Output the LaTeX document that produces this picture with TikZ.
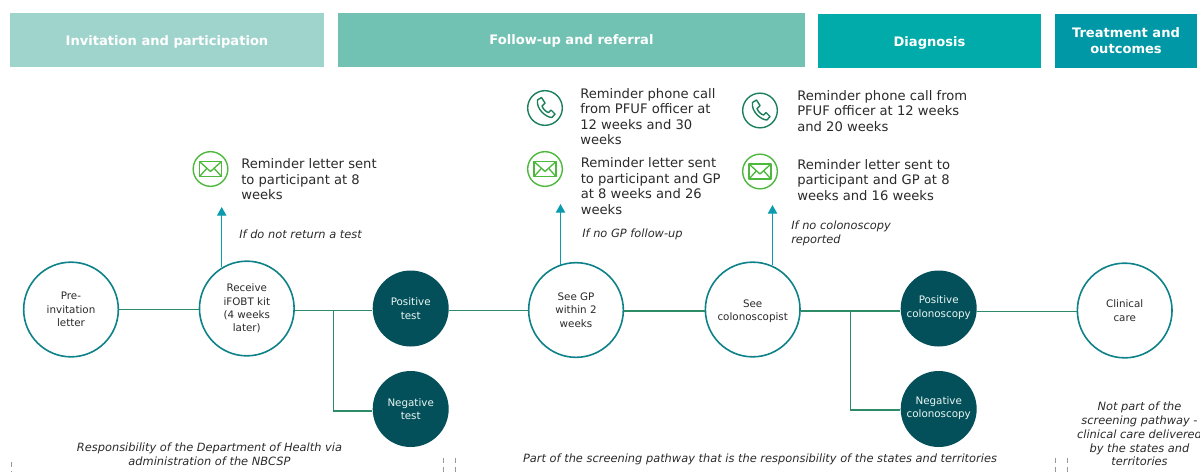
\documentclass[tikz,border=0pt]{standalone}
\usepackage{fontspec}
\setmainfont{DejaVu Sans}
\usetikzlibrary{arrows.meta,calc}
\definecolor{hA}{HTML}{9FD4CD}
\definecolor{hB}{HTML}{72C2B4}
\definecolor{hC}{HTML}{00ABA9}
\definecolor{hD}{HTML}{0097A7}
\definecolor{ring}{HTML}{0E8288}
\definecolor{dark}{HTML}{03505A}
\definecolor{conn}{HTML}{2E8B67}
\definecolor{arr}{HTML}{0A9BAE}
\definecolor{envg}{HTML}{4CB83C}
\definecolor{phg}{HTML}{1A7F5A}
\definecolor{txt}{HTML}{2A2A2A}
\tikzset{
 x=0.75pt,y=-0.75pt,
 band/.style={fill=#1,draw=none,minimum height=40.5pt,inner sep=0pt,text=white,font=\fontsize{9.8}{12}\selectfont\bfseries,align=center},
 openc/.style={circle,draw=ring,line width=1.2pt,fill=white,minimum size=71pt,inner sep=0pt,align=center,text=txt,font=\fontsize{7.75}{10.1}\selectfont},
 darkc/.style={circle,fill=dark,minimum size=57pt,inner sep=0pt,align=center,text=white!85!hB,font=\fontsize{7.75}{10.1}\selectfont},
 link/.style={draw=conn,line width=1.15pt},
 up/.style={draw=arr,line width=0.9pt,-{Triangle[length=6.5pt,width=7pt]}},
 note/.style={anchor=north west,inner sep=0pt,align=left,text=txt,font=\fontsize{9.85}{11.65}\selectfont},
 cond/.style={inner sep=0pt,text=txt,font=\fontsize{8.55}{10.4}\selectfont\itshape,align=left},
 foot/.style={inner sep=0pt,text=txt,font=\fontsize{8.55}{10.4}\selectfont\itshape,align=center},
 icon/.style={circle,draw=#1,line width=1.05pt,minimum size=26pt,inner sep=0pt},
 cut/.style={draw=gray!80,line width=0.7pt,dash pattern=on 3.75pt off 3pt},
}
\newcommand{\envicon}[1]{%
 \draw[envg,line width=1pt,line join=round] ($(#1)+(-11,-7.5)$) rectangle ($(#1)+(11,7.5)$);
 \draw[envg,line width=1pt,line join=round] ($(#1)+(-11,-7.5)$) -- ($(#1)+(0,2.5)$) -- ($(#1)+(11,-7.5)$);
 \draw[envg,line width=1pt] ($(#1)+(-11,7.5)$) -- ($(#1)+(-3.5,-0.8)$);
 \draw[envg,line width=1pt] ($(#1)+(11,7.5)$) -- ($(#1)+(3.5,-0.8)$);
}
\newcommand{\phoneicon}[1]{%
 \draw[phg,line width=1.05pt,line join=round] ($(#1)+(-7.5,-8)$) -- ($(#1)+(-3.5,-10.5)$) -- ($(#1)+(0,-5)$) -- ($(#1)+(-3,-2)$)
  .. controls ($(#1)+(-2,1)$) and ($(#1)+(1,4)$) .. ($(#1)+(3.5,4.5)$)
  -- ($(#1)+(6,2)$) -- ($(#1)+(10,6)$) -- ($(#1)+(7,9.5)$)
  .. controls ($(#1)+(1,9.5)$) and ($(#1)+(-9,1)$) .. cycle;
}
\newcommand{\liftup}{\\[-7.1pt]\mbox{}}
\begin{document}
\begin{tikzpicture}
\useasboundingbox (0,0) rectangle (1200,472);
% bands
\node[band=hA,minimum width=235.5pt] (b1) at (167,40) {\rule{0pt}{10.5pt}Invitation and participation};
\node[band=hB,minimum width=350.25pt] (b2) at (571.5,40) {\rule{0pt}{8.6pt}Follow-up and referral};
\node[band=hC,minimum width=167.25pt] (b3) at (929.5,41) {\rule{0pt}{10.5pt}Diagnosis};
\node[band=hD,minimum width=106.5pt] (b4) at (1126,40.5) {Treatment and\\[0.5pt]outcomes};
% nodes
\node[openc] (pre) at (71,309.5) {Pre-\\invitation\\letter};
\node[openc] (kit) at (246.8,308.5) {Receive\\iFOBT kit\\(4 weeks\\later)};
\node[darkc] (pos) at (410.7,308.5) {Positive\\test};
\node[darkc] (neg) at (410.7,409) {Negative\\test};
\node[openc] (gp) at (576,310) {See GP\\within 2\\weeks};
\node[openc] (col) at (752.7,309.5) {\rule{0pt}{8.7pt}See\\colonoscopist};
\node[darkc] (pcol) at (938.7,308.5) {Positive\\colonoscopy\liftup};
\node[darkc] (ncol) at (938.7,409) {Negative\\colonoscopy\liftup};
\node[openc] (care) at (1124.7,310.5) {Clinical\\care};
% connectors
\coordinate (j1) at (333.5,310.5);
\coordinate (j2) at (850.5,311);
\coordinate (l1) at (333.5,411);
\coordinate (l2) at (850.5,410);
\coordinate (j3) at (1000,311.5);
\draw[link] (pre.east) -- (kit.west |- pre.east);
\draw[link] (kit.east |- j1) -- (pos.west |- j1);
\draw[link] (j1) -- (l1) -- (neg.west |- l1);
\draw[link] (pos.east |- j1) -- (gp.west |- j1);
\draw[link] (gp.east |- j2) -- (col.west |- j2);
\draw[link] (col.east |- j2) -- (pcol.west |- j2);
\draw[link] (j2) -- (l2) -- (ncol.west |- l2);
\draw[link] (pcol.east |- j3) -- (care.west |- j3);
% icons
\node[icon=envg] (m1) at (210.5,169) {};
\node[icon=phg] (p2) at (545,108) {};
\node[icon=envg] (m2) at (545,169) {};
\node[icon=phg] (p3) at (760,110.5) {};
\node[icon=envg] (m3) at (760,171.5) {};
\envicon{m1}\envicon{m2}\envicon{m3}
\phoneicon{p2}\phoneicon{p3}
% arrows
\coordinate (t1) at (221.7,207);
\coordinate (t2) at (560.5,204);
\coordinate (t3) at (772.5,205);
\draw[up] ($(t1 |- kit.north)+(0,7)$) -- (t1);
\draw[up] ($(t2 |- gp.north)+(0,3)$) -- (t2);
\draw[up] ($(t3 |- col.north)+(0,4)$) -- (t3);
% notes
\node[note] (n1) at (241,158.5) {Reminder letter sent\\to participant at 8\\weeks};
\node[note] (n2) at (580,88) {Reminder phone call\\from PFUF officer at\\12 weeks and 30\\weeks};
\node[note] (n3) at (580.5,157.5) {Reminder letter sent\\to participant and GP\\at 8 weeks and 26\\weeks};
\node[note] (n4) at (797,90) {Reminder phone call from\\PFUF officer at 12 weeks\\and 20 weeks};
\node[note] (n5) at (797,159) {Reminder letter sent to\\participant and GP at 8\\weeks and 16 weeks};
\node[cond,anchor=west] (c1) at (239,234) {If do not return a test};
\node[cond,anchor=west] (c2) at (582,234) {If no GP follow-up};
\node[cond,anchor=north west] (c3) at (791,221) {If no colonoscopy\\reported};
\node[foot] (f1) at (209.5,454) {Responsibility of the Department of Health via\\administration of the NBCSP};
\node[foot] (f2) at (760,459) {Part of the screening pathway that is the responsibility of the states and territories};
\node[foot] (f3) at (1139.5,434) {Not part of the\\screening pathway -\\clinical care delivered\\by the states and\\territories};
% dashes
\foreach \n/\xx/\yy in {d1/11/462,d2/443/458,d3/455/458,d4/1055/458,d5/1067/458}{
 \coordinate (\n a) at (\xx,\yy);
 \coordinate (\n b) at (\xx,472);
 \draw[cut] (\n a) -- (\n b);
}
\end{tikzpicture}
\end{document}
